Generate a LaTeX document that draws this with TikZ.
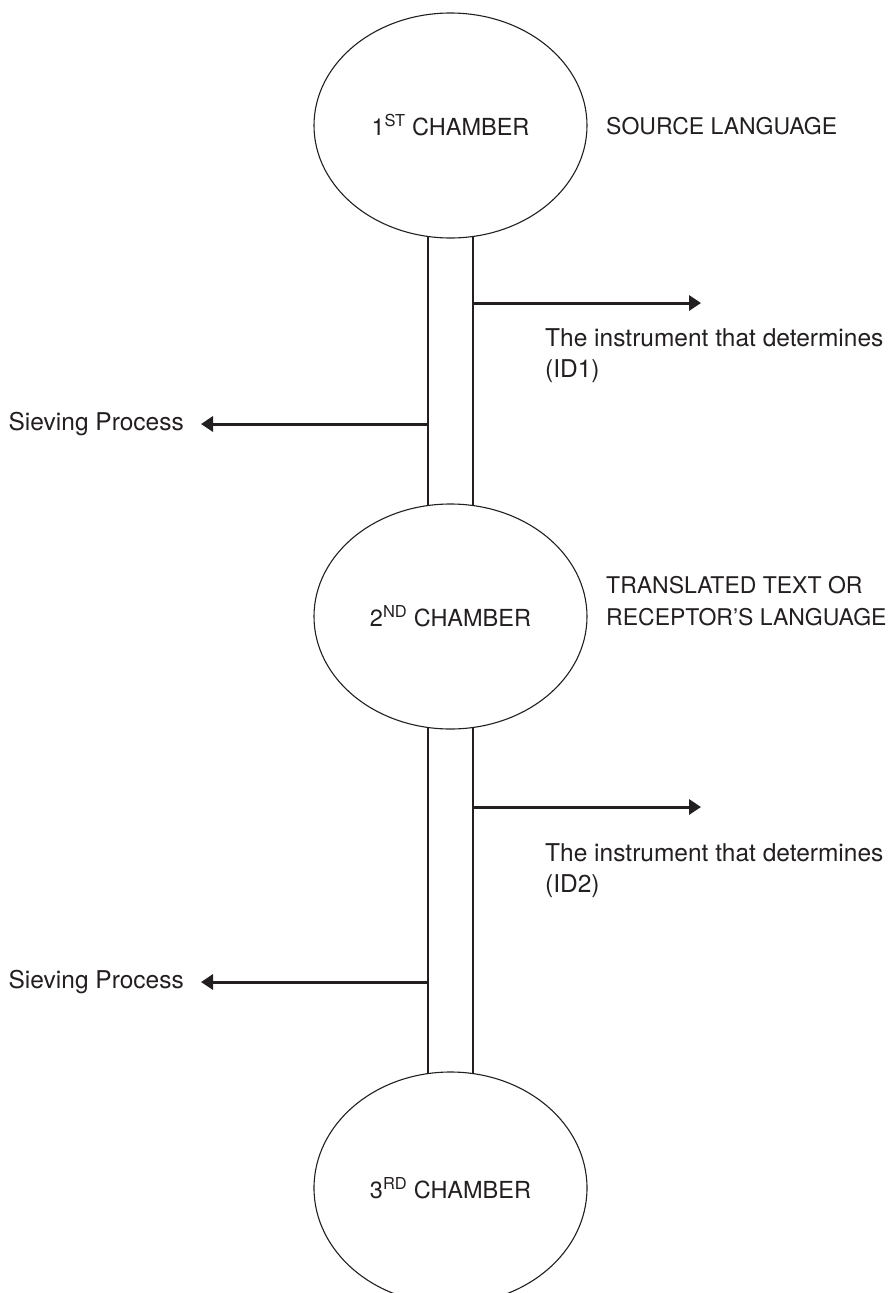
\documentclass[tikz,border=0pt]{standalone}
\usepackage{fontspec}
\setmainfont{TeX Gyre Heros}
\usetikzlibrary{shapes.geometric,arrows.meta}
\definecolor{ink}{HTML}{231F20}
\begin{document}
\begin{tikzpicture}[x=1pt,y=-1pt,
  chamber/.style={ellipse,draw=ink,line width=1.1pt,fill=white,minimum width=273pt,inner sep=0pt,text=ink,font=\fontsize{23.5}{28}\selectfont},
  tube/.style={rectangle,draw=ink,line width=1.1pt,minimum width=45pt,inner sep=0pt},
  arr/.style={line width=3pt,draw=ink,-{Triangle[length=12pt,width=15pt]}},
  lbl/.style={inner sep=0pt,font=\fontsize{24.5}{31}\selectfont,text=ink,align=left},
  caplbl/.style={lbl,font=\fontsize{23}{32}\selectfont}]
\useasboundingbox (0,0) rectangle (890,1293);
% tubes (drawn first, ellipses cover their ends)
\node[tube,minimum height=491pt] (t1) at (450.5,371) {};
\node[tube,minimum height=571pt] (t2) at (450.5,902.5) {};
% chambers
\node[chamber,minimum height=225pt] (e1) at (450.5,125.5) {1\textsuperscript{ST} CHAMBER};
\node[chamber,minimum height=225pt] (e2) at (450.5,616.5) {2\textsuperscript{ND} CHAMBER};
\node[chamber,minimum height=232pt] (e3) at (450.5,1188) {3\textsuperscript{RD} CHAMBER};
% side labels
\node[caplbl,anchor=west] (src) at (606,126) {SOURCE LANGUAGE};
\node[caplbl,anchor=west] (trg) at (606,601) {TRANSLATED TEXT OR\\RECEPTOR’S LANGUAGE};
% instrument labels
\node[lbl,anchor=west] (id1) at (545,356) {The instrument that determines\\(ID1)};
\node[lbl,anchor=west] (id2) at (545,871) {The instrument that determines\\(ID2)};
% sieving labels
\node[lbl,anchor=east] (s1) at (184,424) {Sieving Process};
\node[lbl,anchor=east] (s2) at (184,982) {Sieving Process};
% arrow end points
\coordinate (r1) at (701,303);
\coordinate (r2) at (701,807);
\coordinate (l1) at (201,424);
\coordinate (l2) at (201,982);
% arrows
\draw[arr] (t1.east |- r1) -- (r1);
\draw[arr] (t1.west |- l1) -- (l1);
\draw[arr] (t2.east |- r2) -- (r2);
\draw[arr] (t2.west |- l2) -- (l2);
\end{tikzpicture}
\end{document}
